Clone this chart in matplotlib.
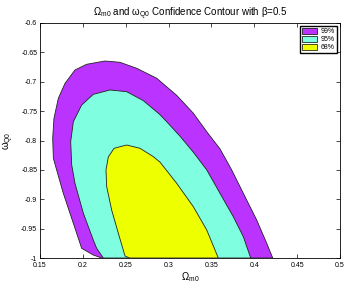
import matplotlib
matplotlib.use("Agg")
import matplotlib.pyplot as plt
from matplotlib.patches import Patch
import numpy as np

plt.rcParams['font.family'] = ['Liberation Sans', 'DejaVu Sans']
plt.rcParams['mathtext.fontset'] = 'custom'
plt.rcParams['mathtext.rm'] = 'Liberation Sans'
plt.rcParams['mathtext.it'] = 'Liberation Sans'

# contour outlines (Omega_m0, omega_Q0)
om99 = [0.222, 0.2122, 0.1986, 0.1889, 0.1772, 0.1694, 0.1656, 0.1648, 0.1663, 0.1714,
        0.1792, 0.1908, 0.2044, 0.2258, 0.2433, 0.2628, 0.2861, 0.3095, 0.3289,
        0.3445, 0.36, 0.3736, 0.3872, 0.4028, 0.4145, 0.4215]
w99 = [-1.0, -0.9949, -0.9835, -0.9409, -0.8899, -0.850, -0.8303, -0.7963, -0.7622, -0.7282,
       -0.7027, -0.680, -0.6703, -0.6647, -0.6669, -0.6771, -0.694, -0.7232, -0.7536,
       -0.785, -0.8143, -0.850, -0.8899, -0.9353, -0.975, -1.0]

om95 = [0.2239, 0.2161, 0.2122, 0.2006, 0.1908, 0.187, 0.1858, 0.1889, 0.1986, 0.2122,
        0.2317, 0.2511, 0.2706, 0.29, 0.2978, 0.3133, 0.3289, 0.3445, 0.36, 0.3755,
        0.3872, 0.3958]
w95 = [-1.0, -0.9835, -0.9694, -0.924, -0.8729, -0.8417, -0.802, -0.768, -0.7396, -0.7214,
       -0.714, -0.7169, -0.7322, -0.756, -0.768, -0.7926, -0.82, -0.850, -0.8899, -0.9297,
       -0.9637, -1.0]

om68 = [0.2545, 0.2492, 0.2414, 0.2336, 0.2278, 0.227, 0.2297, 0.2364, 0.2511, 0.2667,
        0.2822, 0.29, 0.3095, 0.3289, 0.3445, 0.358]
w68 = [-1.0, -0.9966, -0.958, -0.9183, -0.8786, -0.850, -0.828, -0.8133, -0.8077, -0.8133,
       -0.8275, -0.8368, -0.8729, -0.9127, -0.9523, -1.0]

levels = ['99%', '95%', '68%']
colors = ['#BB33FF', '#7FFFDF', '#EEFF00']

fig = plt.figure(figsize=(3.46, 2.85), dpi=100)
ax = fig.add_axes([0.1156, 0.0947, 0.8671, 0.8246])

for xs, ys, c in zip([om99, om95, om68], [w99, w95, w68], colors):
    ax.fill(xs, ys, facecolor=c, edgecolor='#222222', linewidth=0.6, zorder=2)

ax.set_xlim(0.15, 0.5)
ax.set_ylim(-1, -0.6)
xt = np.arange(0.15, 0.501, 0.05)
yt = np.arange(-1, -0.599, 0.05)
ax.set_xticks(xt)
ax.set_xticklabels(['%g' % round(v, 2) for v in xt])
ax.set_yticks(yt)
ax.set_yticklabels(['%g' % round(v, 2) for v in yt])
ax.tick_params(direction='in', length=3, width=0.5, labelsize=5, top=True, right=True)
ax.tick_params(axis='x', pad=3)
ax.tick_params(axis='y', pad=2)
for s in ax.spines.values():
    s.set_linewidth(0.6)

ax.set_xlabel(r'$\Omega_{m0}$', fontsize=7, labelpad=1)
ax.set_ylabel(r'$\omega_{Q0}$', fontsize=7, labelpad=4)
ax.set_title(r'$\Omega_{m0}$ and $\omega_{Q0}$ Confidence Contour with β=0.5', fontsize=7, pad=5)

handles = [Patch(facecolor=c, edgecolor='black', linewidth=0.5, label=l) for c, l in zip(colors, levels)]
ax.legend(handles=handles, loc='upper right', fontsize=5, frameon=True, fancybox=False,
          edgecolor='black', framealpha=1, borderaxespad=0.4, handlelength=2.2, handleheight=0.9,
          handletextpad=0.5, borderpad=0.3, labelspacing=0.1)

fig.savefig('out.png', dpi=100)
